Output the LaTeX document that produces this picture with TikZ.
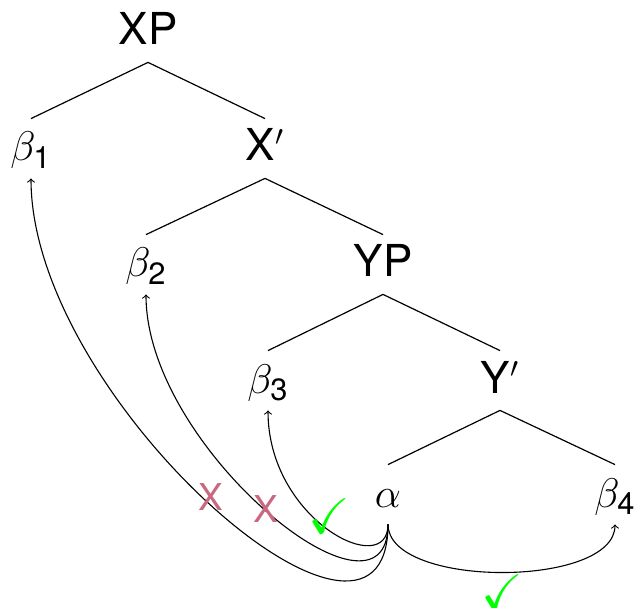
\documentclass[tikz,border=0pt]{standalone}
\usepackage{amsmath,amssymb}
\usepackage{fontspec}
\setmainfont{TeX Gyre Heros}
\definecolor{xpink}{RGB}{200,105,128}
\definecolor{ckgreen}{RGB}{0,255,0}
\begin{document}
\begin{tikzpicture}[x=0.5pt,y=-0.5pt,
  lab/.style={anchor=base,inner sep=0pt,text height=21pt,text depth=8.5pt,font=\fontsize{22}{26}\selectfont},
  edge/.style={line width=0.6pt},
  mv/.style={line width=0.55pt,->},
  bad/.style={inner sep=0pt,text=xpink,font=\fontsize{18.5}{22}\selectfont},
  good/.style={inner sep=0pt,text=ckgreen,font=\fontsize{25}{29}\selectfont}]
\useasboundingbox (0,0) rectangle (635,608);
\node[lab] (xp) at (148,45) {XP};
\node[lab] (b1) at (31,161) {$\beta_{\text{1}}$};
\node[lab] (xb) at (265,161) {X$'$};
\node[lab] (b2) at (146,277) {$\beta_{\text{2}}$};
\node[lab] (yp) at (383,277) {YP};
\node[lab] (b3) at (268,393) {$\beta_{\text{3}}$};
\node[lab] (yb) at (500,393) {Y$'$};
\node[lab] (al) at (388,507) {$\alpha$};
\node[lab] (b4) at (615,507) {$\beta_{\text{4}}$};
\draw[edge] (xp.south) -- (b1.north);
\draw[edge] (xp.south) -- (xb.north);
\draw[edge] (xb.south) -- (b2.north);
\draw[edge] (xb.south) -- (yp.north);
\draw[edge] (yp.south) -- (b3.north);
\draw[edge] (yp.south) -- (yb.north);
\draw[edge] (yb.south) -- (al.north);
\draw[edge] (yb.south) -- (b4.north);
\draw[mv] (al.south) .. controls +(0,185) and +(0,222) .. (b1.south);
\draw[mv] (al.south) .. controls +(0,118) and +(0,155) .. (b2.south);
\draw[mv] (al.south) .. controls +(0,56) and +(0,110) .. (b3.south);
\draw[mv] (al.south) .. controls +(0,64) and +(0,64) .. (b4.south);
\node[bad] (x1) at (211,497) {X};
\node[bad] (x2) at (266,509) {X};
\node[good] (c1) at (329,516) {$\checkmark$};
\node[good] (c2) at (502,592) {$\checkmark$};
\end{tikzpicture}
\end{document}
